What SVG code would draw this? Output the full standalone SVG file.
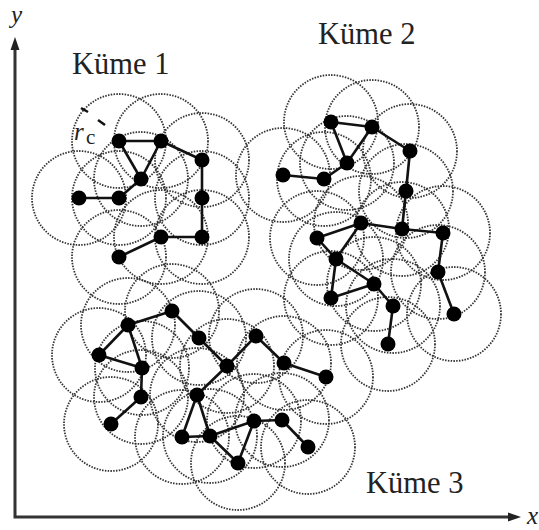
<svg xmlns="http://www.w3.org/2000/svg" width="539" height="530" viewBox="0 0 539 530">
<defs>
<style>
.rng{fill:none;stroke:#333;stroke-width:1.8;stroke-dasharray:1.5 1.3}
.e line{stroke:#111;stroke-width:2.6}
.nd{fill:#000}
.lbl{font-family:"Liberation Serif","DejaVu Serif","Times New Roman",serif;font-size:30.5px;fill:#222}
.ax{stroke:#333;stroke-width:3;fill:none}
.it{font-family:"Liberation Serif","DejaVu Serif","Times New Roman",serif;font-style:italic;font-size:25px;fill:#222}
.sub{font-family:"Liberation Serif","DejaVu Serif","Times New Roman",serif;font-size:21px;fill:#222}
</style>
</defs>
<rect width="539" height="530" fill="#fff"/>

<g id="ranges">
<circle class="rng" cx="119" cy="141" r="47"/><circle class="rng" cx="161" cy="141" r="47"/><circle class="rng" cx="202" cy="160" r="47"/><circle class="rng" cx="141" cy="179" r="47"/><circle class="rng" cx="79" cy="198" r="47"/><circle class="rng" cx="119" cy="198" r="47"/><circle class="rng" cx="202" cy="198" r="47"/><circle class="rng" cx="161" cy="237" r="47"/><circle class="rng" cx="202" cy="237" r="47"/><circle class="rng" cx="119" cy="257" r="47"/>
<circle class="rng" cx="331" cy="122" r="47"/><circle class="rng" cx="372" cy="127" r="47"/><circle class="rng" cx="410" cy="151" r="47"/><circle class="rng" cx="347" cy="163" r="47"/><circle class="rng" cx="283" cy="175" r="47"/><circle class="rng" cx="324" cy="179" r="47"/><circle class="rng" cx="406" cy="191" r="47"/><circle class="rng" cx="361" cy="223" r="47"/><circle class="rng" cx="402" cy="229" r="47"/><circle class="rng" cx="443" cy="233" r="47"/><circle class="rng" cx="317" cy="238" r="47"/><circle class="rng" cx="336" cy="259" r="47"/><circle class="rng" cx="438" cy="272" r="47"/><circle class="rng" cx="374" cy="284" r="47"/><circle class="rng" cx="331" cy="298" r="47"/><circle class="rng" cx="393" cy="306" r="47"/><circle class="rng" cx="454" cy="314" r="47"/><circle class="rng" cx="388" cy="344" r="47"/>
<circle class="rng" cx="172" cy="311" r="47"/><circle class="rng" cx="128" cy="325" r="47"/><circle class="rng" cx="199" cy="338" r="47"/><circle class="rng" cx="256" cy="336" r="47"/><circle class="rng" cx="99" cy="355" r="47"/><circle class="rng" cx="142" cy="368" r="47"/><circle class="rng" cx="227" cy="366" r="47"/><circle class="rng" cx="141" cy="397" r="47"/><circle class="rng" cx="197" cy="395" r="47"/><circle class="rng" cx="111" cy="424" r="47"/><circle class="rng" cx="182" cy="437" r="47"/><circle class="rng" cx="210" cy="436" r="47"/><circle class="rng" cx="254" cy="421" r="47"/><circle class="rng" cx="238" cy="463" r="47"/><circle class="rng" cx="284" cy="363" r="47"/><circle class="rng" cx="326" cy="377" r="47"/><circle class="rng" cx="282" cy="420" r="47"/><circle class="rng" cx="308" cy="447" r="47"/>
</g>

<g id="connectors" class="e">
<line x1="119" y1="141" x2="161" y2="141"/><line x1="161" y1="141" x2="202" y2="160"/><line x1="119" y1="141" x2="141" y2="179"/><line x1="161" y1="141" x2="141" y2="179"/><line x1="141" y1="179" x2="119" y2="198"/><line x1="79" y1="198" x2="119" y2="198"/><line x1="202" y1="160" x2="202" y2="198"/><line x1="202" y1="198" x2="202" y2="237"/><line x1="161" y1="237" x2="202" y2="237"/><line x1="161" y1="237" x2="119" y2="257"/>
<line x1="331" y1="122" x2="372" y2="127"/><line x1="331" y1="122" x2="347" y2="163"/><line x1="372" y1="127" x2="347" y2="163"/><line x1="372" y1="127" x2="410" y2="151"/><line x1="347" y1="163" x2="324" y2="179"/><line x1="283" y1="175" x2="324" y2="179"/><line x1="410" y1="151" x2="406" y2="191"/><line x1="406" y1="191" x2="402" y2="229"/><line x1="361" y1="223" x2="402" y2="229"/><line x1="402" y1="229" x2="443" y2="233"/><line x1="317" y1="238" x2="361" y2="223"/><line x1="361" y1="223" x2="336" y2="259"/><line x1="317" y1="238" x2="336" y2="259"/><line x1="336" y1="259" x2="374" y2="284"/><line x1="336" y1="259" x2="331" y2="298"/><line x1="331" y1="298" x2="374" y2="284"/><line x1="374" y1="284" x2="393" y2="306"/><line x1="393" y1="306" x2="388" y2="344"/><line x1="443" y1="233" x2="438" y2="272"/><line x1="438" y1="272" x2="454" y2="314"/>
<line x1="128" y1="325" x2="172" y2="311"/><line x1="172" y1="311" x2="199" y2="338"/><line x1="199" y1="338" x2="227" y2="366"/><line x1="227" y1="366" x2="197" y2="395"/><line x1="227" y1="366" x2="256" y2="336"/><line x1="256" y1="336" x2="284" y2="363"/><line x1="284" y1="363" x2="326" y2="377"/><line x1="128" y1="325" x2="99" y2="355"/><line x1="99" y1="355" x2="142" y2="368"/><line x1="128" y1="325" x2="142" y2="368"/><line x1="142" y1="368" x2="141" y2="397"/><line x1="141" y1="397" x2="111" y2="424"/><line x1="197" y1="395" x2="182" y2="437"/><line x1="197" y1="395" x2="210" y2="436"/><line x1="182" y1="437" x2="210" y2="436"/><line x1="210" y1="436" x2="238" y2="463"/><line x1="210" y1="436" x2="254" y2="421"/><line x1="254" y1="421" x2="238" y2="463"/><line x1="254" y1="421" x2="282" y2="420"/><line x1="282" y1="420" x2="308" y2="447"/>
</g>

<g id="cluster1">
<circle class="nd" cx="119" cy="141" r="7.5"/><circle class="nd" cx="161" cy="141" r="7.5"/><circle class="nd" cx="202" cy="160" r="7.5"/><circle class="nd" cx="141" cy="179" r="7.5"/><circle class="nd" cx="79" cy="198" r="7.5"/><circle class="nd" cx="119" cy="198" r="7.5"/><circle class="nd" cx="202" cy="198" r="7.5"/><circle class="nd" cx="161" cy="237" r="7.5"/><circle class="nd" cx="202" cy="237" r="7.5"/><circle class="nd" cx="119" cy="257" r="7.5"/>
</g>
<g id="cluster2">
<circle class="nd" cx="331" cy="122" r="7.5"/><circle class="nd" cx="372" cy="127" r="7.5"/><circle class="nd" cx="410" cy="151" r="7.5"/><circle class="nd" cx="347" cy="163" r="7.5"/><circle class="nd" cx="283" cy="175" r="7.5"/><circle class="nd" cx="324" cy="179" r="7.5"/><circle class="nd" cx="406" cy="191" r="7.5"/><circle class="nd" cx="361" cy="223" r="7.5"/><circle class="nd" cx="402" cy="229" r="7.5"/><circle class="nd" cx="443" cy="233" r="7.5"/><circle class="nd" cx="317" cy="238" r="7.5"/><circle class="nd" cx="336" cy="259" r="7.5"/><circle class="nd" cx="438" cy="272" r="7.5"/><circle class="nd" cx="374" cy="284" r="7.5"/><circle class="nd" cx="331" cy="298" r="7.5"/><circle class="nd" cx="393" cy="306" r="7.5"/><circle class="nd" cx="454" cy="314" r="7.5"/><circle class="nd" cx="388" cy="344" r="7.5"/>
</g>
<g id="cluster3">
<circle class="nd" cx="172" cy="311" r="7.5"/><circle class="nd" cx="128" cy="325" r="7.5"/><circle class="nd" cx="199" cy="338" r="7.5"/><circle class="nd" cx="256" cy="336" r="7.5"/><circle class="nd" cx="99" cy="355" r="7.5"/><circle class="nd" cx="142" cy="368" r="7.5"/><circle class="nd" cx="227" cy="366" r="7.5"/><circle class="nd" cx="141" cy="397" r="7.5"/><circle class="nd" cx="197" cy="395" r="7.5"/><circle class="nd" cx="111" cy="424" r="7.5"/><circle class="nd" cx="182" cy="437" r="7.5"/><circle class="nd" cx="210" cy="436" r="7.5"/><circle class="nd" cx="254" cy="421" r="7.5"/><circle class="nd" cx="238" cy="463" r="7.5"/><circle class="nd" cx="284" cy="363" r="7.5"/><circle class="nd" cx="326" cy="377" r="7.5"/><circle class="nd" cx="282" cy="420" r="7.5"/><circle class="nd" cx="308" cy="447" r="7.5"/>
</g>

<g id="rc">
<line x1="81" y1="108" x2="88" y2="112" stroke="#111" stroke-width="2.5"/>
<line x1="98" y1="120" x2="105" y2="125" stroke="#111" stroke-width="2.5"/>
<text class="it" x="74" y="140">r</text>
<text class="sub" x="86" y="144">c</text>
</g>

<g id="labels">
<text class="lbl" x="72" y="74">Küme 1</text>
<text class="lbl" x="318" y="44">Küme 2</text>
<text class="lbl" x="366" y="493">Küme 3</text>
</g>

<g id="axes">
<polyline class="ax" points="15,48 15,517 512,517"/>
<path d="M15,37 L19.5,50 L10.5,50 Z" fill="#222"/>
<path d="M521,517 L508,521.5 L508,512.5 Z" fill="#222"/>
<text class="it" x="11" y="23">y</text>
<text class="it" x="527" y="524">x</text>
</g>
</svg>
